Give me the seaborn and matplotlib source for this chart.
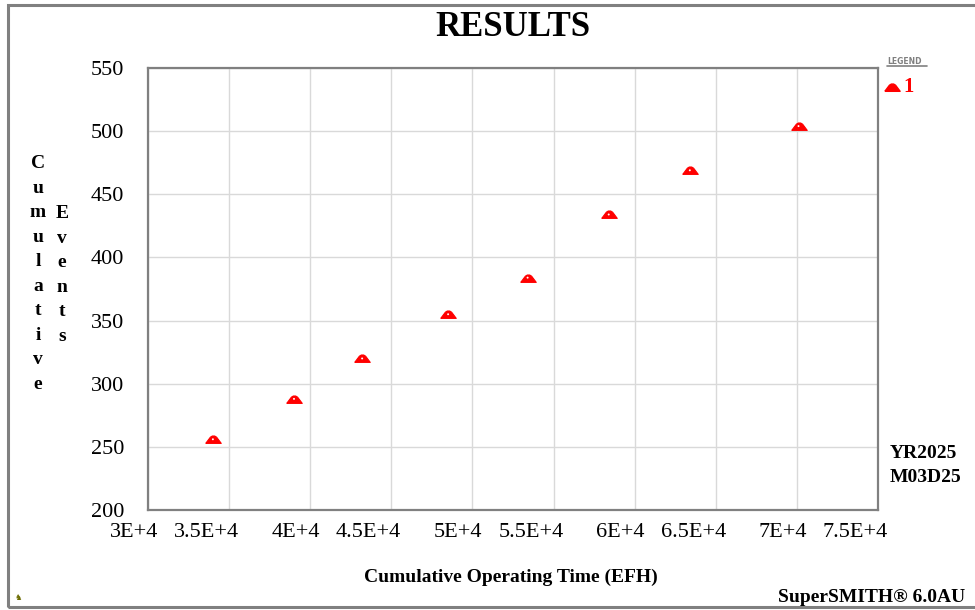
import matplotlib
matplotlib.use("Agg")
import matplotlib.pyplot as plt
import matplotlib.transforms as mtransforms
from matplotlib.lines import Line2D
from matplotlib.patches import Rectangle
from matplotlib.path import Path
import pandas as pd
import seaborn as sns

# values
operating_time = [34000, 39000, 43200, 48500, 53400, 58400, 63400, 70100]
cumulative_events = [256, 288, 320, 355, 384, 434, 469, 504]
series_name = "1"

x_ticks = [30000, 35000, 40000, 45000, 50000, 55000, 60000, 65000, 70000, 75000]
x_tick_labels = ["3E+4", "3.5E+4", "4E+4", "4.5E+4", "5E+4",
                 "5.5E+4", "6E+4", "6.5E+4", "7E+4", "7.5E+4"]
y_ticks = [200, 250, 300, 350, 400, 450, 500, 550]

df = pd.DataFrame({"time": operating_time, "events": cumulative_events})

sns.set_theme(style="white")
plt.rcParams["font.family"] = ["Liberation Serif", "DejaVu Serif"]
plt.rcParams["text.color"] = "black"
plt.rcParams["xtick.labelcolor"] = "black"
plt.rcParams["ytick.labelcolor"] = "black"

W, H = 975, 610
fig = plt.figure(figsize=(W / 100, H / 100), dpi=100)
ax = fig.add_axes([148 / W, 1 - 510 / H, (878 - 148) / W, (510 - 68) / H])

# flattened red "triangle" marker used by the original software
tri = Path([(-1, -0.5), (1, -0.5), (0.4, 0.3), (0.15, 0.45), (-0.15, 0.45),
            (-0.4, 0.3), (-1, -0.5)])

sns.scatterplot(data=df, x="time", y="events", marker=tri, s=125, color="#ff0000",
                edgecolor="#ff0000", linewidth=0.8, ax=ax, legend=False, zorder=3)
sns.scatterplot(data=df, x="time", y="events", marker="o", s=2, color="white",
                edgecolor="none", ax=ax, legend=False, zorder=4)

ax.set_xlim(x_ticks[0], x_ticks[-1])
ax.set_ylim(y_ticks[0], y_ticks[-1])
ax.set_xticks(x_ticks)
ax.set_xticklabels([])
ax.set_yticks(y_ticks)
ax.set_yticklabels([str(v) for v in y_ticks], fontsize=16, color="black")

# x tick labels sit right-aligned just past their grid line, as in the original
shift = mtransforms.ScaledTranslation(10 / 100, -13 / 100, fig.dpi_scale_trans)
xlab_tr = ax.get_xaxis_transform() + shift
for xv, lab in zip(x_ticks, x_tick_labels):
    ax.text(xv, 0, lab, transform=xlab_tr, ha="right", va="top", fontsize=16,
            color="black", clip_on=False)

ax.grid(True, color="#d9d9d9", linewidth=1)
ax.tick_params(axis="both", direction="out", length=7, width=1, color="#d9d9d9")
ax.tick_params(axis="y", pad=10)
for sp in ax.spines.values():
    sp.set_color("#808080")
    sp.set_linewidth(1.6)
ax.set_xlabel("")
ax.set_ylabel("")

# titles and labels
fig.text(513 / W, 1 - 27 / H, "RESULTS", ha="center", va="center",
         fontsize=25, fontweight="bold")
fig.text(511 / W, 1 - 577 / H, "Cumulative Operating Time (EFH)", ha="center",
         va="center", fontsize=14, fontweight="bold")
fig.text(38 / W, 1 - 155 / H, "\n".join("Cumulative"), ha="center", va="top",
         fontsize=14, fontweight="bold", linespacing=1.58, multialignment="center")
fig.text(62 / W, 1 - 205 / H, "\n".join("Events"), ha="center", va="top",
         fontsize=14, fontweight="bold", linespacing=1.58, multialignment="center")

# legend block on the right
fig.text(887 / W, 1 - 61 / H, "LEGEND", ha="left", va="center", fontsize=5.5,
         fontweight="bold", color="#808080", family=["DejaVu Sans"])
fig.add_artist(Line2D([887 / W, 927 / W], [1 - 66 / H, 1 - 66 / H],
                      color="#808080", linewidth=1.2, transform=fig.transFigure))
fig.add_artist(Line2D([892 / W], [1 - 87 / H], marker=tri, markersize=11,
                      color="#ff0000", linestyle="none", transform=fig.transFigure))
fig.text(903 / W, 1 - 87 / H, series_name, ha="left", va="center", fontsize=15,
         fontweight="bold", color="#ff0000")

fig.text(890 / W, 1 - 454 / H, "YR2025", ha="left", va="center", fontsize=14,
         fontweight="bold")
fig.text(890 / W, 1 - 477 / H, "M03D25", ha="left", va="center", fontsize=14,
         fontweight="bold")
fig.text(965 / W, 1 - 597 / H, "SuperSMITH® 6.0AU", ha="right", va="center",
         fontsize=14, fontweight="bold")
fig.text(18 / W, 1 - 597 / H, "♞", ha="center", va="center", fontsize=6,
         color="#6b6b00", family=["DejaVu Sans"])

# grey frame around the whole page
fig.add_artist(Rectangle((8 / W, 1 - 607 / H), (990 - 8) / W, (607 - 5) / H,
                         fill=False, edgecolor="#808080", linewidth=2.2,
                         transform=fig.transFigure))

fig.savefig("out.png", dpi=100, facecolor="white")
